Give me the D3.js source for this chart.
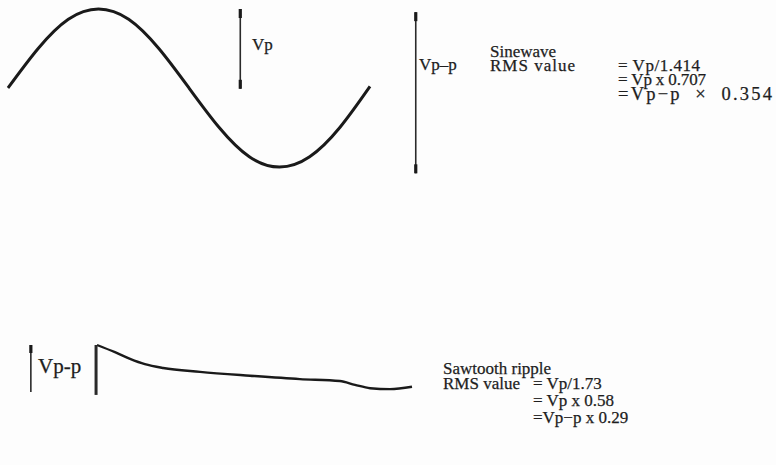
<!DOCTYPE html>
<html>
<head>
<meta charset="utf-8">
<script src="https://cdn.jsdelivr.net/npm/d3@7"></script>
<style>
  body { margin: 0; background: #fdfdfd; }
  text { font-family: "Liberation Serif", "DejaVu Serif", serif; fill: #1e1e1e;
         stroke: #1e1e1e; stroke-width: 0.25; white-space: pre; }
</style>
</head>
<body>
<div id="chart"></div>
<script>
// sinewave: phase (deg) and level (peak = 1)
const sinePhase = [0, 30, 60, 90, 120, 150, 180, 210, 240, 270, 300, 330, 360];
const sineLevel = [0, 0.5, 0.87, 1, 0.87, 0.5, 0, -0.5, -0.87, -1, -0.87, -0.5, 0.02];

// sawtooth ripple: time (0-100) and level (0 = bottom of Vp-p bar, 1 = peak)
const sawTime  = [0, 5.7, 10.5, 15.2, 21, 32.7, 48.6, 64.4, 77.1, 81.9, 86.7, 93, 100];
const sawLevel = [1, 0.85, 0.71, 0.6, 0.52, 0.44, 0.36, 0.29, 0.25, 0.17, 0.1, 0.08, 0.13];

const sineLines = ["Sinewave", "RMS value"];
const sineFormulas = ["= Vp/1.414", "= Vp x 0.707", "=Vp\u2212p  \u00d7  0.354"];
const sawLines = ["Sawtooth ripple", "RMS value"];
const sawFormulas = ["= Vp/1.73", "= Vp x 0.58", "=Vp\u2212p x 0.29"];

const width = 776, height = 465;

const svg = d3.select("#chart").append("svg")
    .attr("width", width)
    .attr("height", height);

// ---- sinewave ----
const x = d3.scaleLinear().domain([0, 360]).range([8, 370]);
const y = d3.scaleLinear().domain([-1, 1]).range([167, 9]);

const sine = sinePhase.map((p, i) => ({p: p, v: sineLevel[i]}));

svg.append("path")
    .datum(sine)
    .attr("fill", "none")
    .attr("stroke", "#1a1a1a")
    .attr("stroke-width", 3)
    .attr("d", d3.line().x(d => x(d.p)).y(d => y(d.v)).curve(d3.curveNatural));

// marker bar; ends = which ends get the thick cap ("both", "top", "solid")
function bar(x0, y0, y1, ends) {
  svg.append("line")
      .attr("x1", x0).attr("x2", x0)
      .attr("y1", y0).attr("y2", y1)
      .attr("stroke", "#2a2a2a")
      .attr("stroke-width", ends === "solid" ? 3 : 1.6);
  const caps = ends === "both" ? [[y0, y0 + 9], [y1 - 9, y1]]
             : ends === "top" ? [[y0, y0 + 8]] : [];
  caps.forEach(s => {
    svg.append("line")
        .attr("x1", x0).attr("x2", x0)
        .attr("y1", s[0]).attr("y2", s[1])
        .attr("stroke", "#1a1a1a")
        .attr("stroke-width", 3.2);
  });
}

// Vp marker (peak to centre line) and Vp-p marker
bar(x(231), y(1), y(-0.01), "both");
bar(x(405.5), y(0.96), y(-1.08), "both");

svg.append("text").attr("x", 252).attr("y", 50).attr("font-size", 17).text("Vp");
svg.append("text").attr("x", 419).attr("y", 70).attr("font-size", 17).text("Vp\u2013p");

svg.selectAll(".sl").data(sineLines).enter().append("text")
    .attr("x", 490).attr("y", (d, i) => 57 + i * 13.5)
    .attr("font-size", 17)
    .attr("textLength", (d, i) => i ? 85 : null)
    .text(d => d);

svg.selectAll(".sf").data(sineFormulas).enter().append("text")
    .attr("x", 618).attr("y", (d, i) => [70.5, 85, 100][i])
    .attr("font-size", (d, i) => i === 2 ? 18.5 : 17)
    .attr("textLength", (d, i) => [82, 88, 154][i])
    .text(d => d);

// ---- sawtooth ripple ----
const sx = d3.scaleLinear().domain([0, 100]).range([97, 412]);
const sy = d3.scaleLinear().domain([0, 1]).range([393, 345]);

const saw = sawTime.map((t, i) => ({t: t, v: sawLevel[i]}));

svg.append("path")
    .datum(saw)
    .attr("fill", "none")
    .attr("stroke", "#1a1a1a")
    .attr("stroke-width", 2.4)
    .attr("d", d3.line().x(d => sx(d.t)).y(d => sy(d.v)).curve(d3.curveMonotoneX));

bar(sx(-21), sy(1), sy(0.02), "top");
bar(sx(-0.3), sy(1), sy(-0.04), "solid");

svg.append("text").attr("x", 38).attr("y", 373).attr("font-size", 21).text("Vp-p");

svg.selectAll(".wl").data(sawLines).enter().append("text")
    .attr("x", 443).attr("y", (d, i) => 374 + i * 15)
    .attr("font-size", 17).text(d => d);

svg.selectAll(".wf").data(sawFormulas).enter().append("text")
    .attr("x", 533).attr("y", (d, i) => 389 + i * 17)
    .attr("font-size", 17).text(d => d);
</script>
</body>
</html>
